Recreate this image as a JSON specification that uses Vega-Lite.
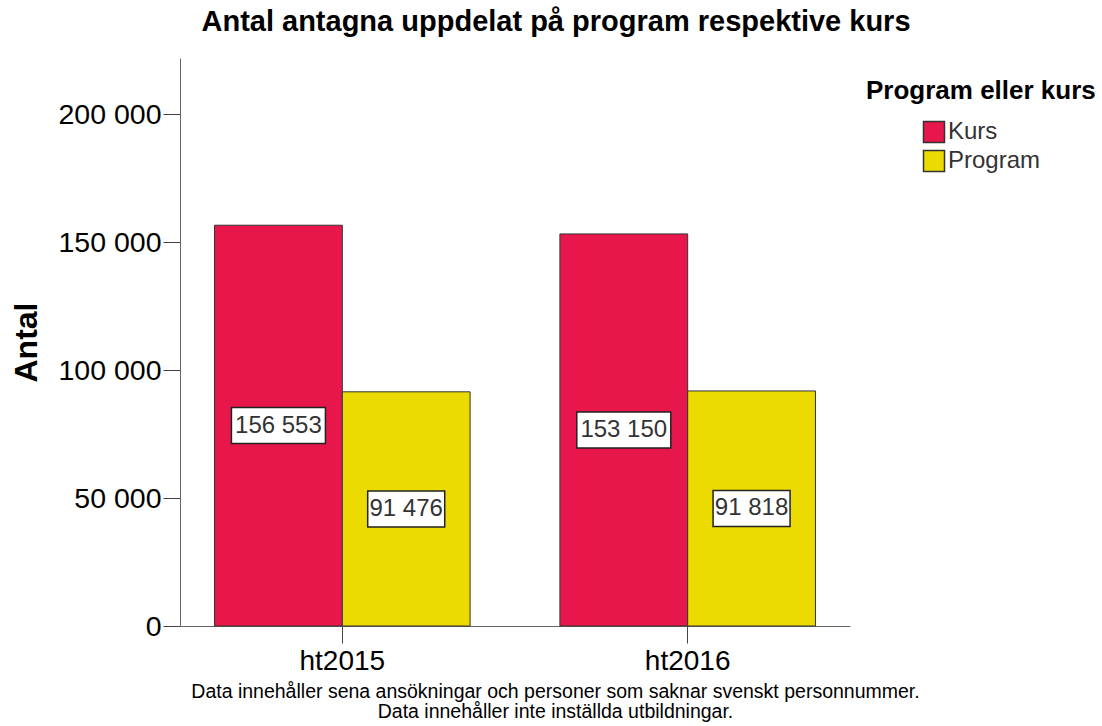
{
  "$schema": "https://vega.github.io/schema/vega-lite/v6.json",
  "width": 670,
  "height": 568,
  "autosize": {"type": "none"},
  "padding": {"left": 180, "top": 58, "right": 252, "bottom": 100},
  "title": {"text": "Antal antagna uppdelat på program respektive kurs", "fontSize": 29, "fontWeight": "bold", "anchor": "middle", "offset": 21, "dx": 41, "color": "#000"},
  "data": {"values": [
    {"Termin": "ht2015", "Program eller kurs": "Kurs", "Antal": 156553},
    {"Termin": "ht2015", "Program eller kurs": "Program", "Antal": 91476},
    {"Termin": "ht2016", "Program eller kurs": "Kurs", "Antal": 153150},
    {"Termin": "ht2016", "Program eller kurs": "Program", "Antal": 91818}
  ]},
  "encoding": {
    "x": {"field": "Termin", "type": "nominal", "scale": {"paddingInner": 0.26, "paddingOuter": 0.1},
      "axis": {"title": ["Data innehåller sena ansökningar och personer som saknar svenskt personnummer.", "Data innehåller inte inställda utbildningar."],
        "labelAngle": 0, "tickSize": 17, "labelFontSize": 28, "labelColor": "#000", "labelPadding": 4,
        "titleFontSize": 19.5, "titleFontWeight": "normal", "titleColor": "#000", "titleX": 375, "titlePadding": 7, "titleLineHeight": 20,
        "domainColor": "#666", "tickColor": "#444"}},
    "xOffset": {"field": "Program eller kurs", "type": "nominal", "scale": {"paddingInner": 0, "paddingOuter": 0}}
  },
  "layer": [
    {
      "mark": {"type": "bar", "stroke": "#333", "strokeWidth": 1},
      "encoding": {
        "y": {"field": "Antal", "type": "quantitative", "scale": {"domain": [0, 221875], "nice": false},
          "axis": {"title": "Antal", "values": [0, 50000, 100000, 150000, 200000], "format": ",.0f", "grid": false, "tickSize": 17,
            "labelFontSize": 28.5, "labelColor": "#000", "labelPadding": 2, "domainColor": "#666", "tickColor": "#444",
            "titleFontSize": 32, "titleFontWeight": "bold", "titleColor": "#000", "titlePadding": 14}},
        "color": {"field": "Program eller kurs", "type": "nominal",
          "scale": {"domain": ["Kurs", "Program"], "range": ["#E8174B", "#EBDB00"]},
          "legend": {"orient": "none", "legendX": 686, "legendY": 20, "title": "Program eller kurs",
            "titleFontSize": 26, "titleFontWeight": "bold", "titleColor": "#000", "titleLimit": 400, "titlePadding": 16,
            "labelFontSize": 24, "labelColor": "#333", "symbolType": "square", "symbolSize": 441,
            "symbolStrokeColor": "#333", "symbolStrokeWidth": 1.5, "symbolOpacity": 1,
            "symbolOffset": 56, "labelOffset": 2, "rowPadding": 1}}
      }
    },
    {
      "transform": [{"filter": "datum['Program eller kurs'] === 'Kurs'"}],
      "mark": {"type": "point", "shape": "M-2.611,-1H2.611V1H-2.611Z", "filled": true, "fill": "white", "stroke": "#222", "strokeWidth": 1.5, "size": 1296, "opacity": 1},
      "encoding": {
        "y": {"field": "Antal", "type": "quantitative", "scale": {"domain": [0, 443750], "nice": false}, "axis": null}
      }
    },
    {
      "transform": [{"filter": "datum['Program eller kurs'] === 'Program'"}],
      "mark": {"type": "point", "shape": "M-2.139,-1H2.139V1H-2.139Z", "filled": true, "fill": "white", "stroke": "#222", "strokeWidth": 1.5, "size": 1296, "opacity": 1},
      "encoding": {
        "y": {"field": "Antal", "type": "quantitative", "scale": {"domain": [0, 443750], "nice": false}, "axis": null}
      }
    },
    {
      "mark": {"type": "text", "fontSize": 24, "color": "#333", "baseline": "middle"},
      "encoding": {
        "y": {"field": "Antal", "type": "quantitative", "scale": {"domain": [0, 443750], "nice": false}, "axis": null},
        "text": {"field": "Antal", "type": "quantitative", "format": ","}
      }
    }
  ],
  "resolve": {"scale": {"y": "independent"}},
  "config": {
    "font": "Liberation Sans",
    "view": {"stroke": null},
    "locale": {"number": {"decimal": ",", "thousands": " ", "grouping": [3], "currency": ["", " kr"]}}
  }
}
